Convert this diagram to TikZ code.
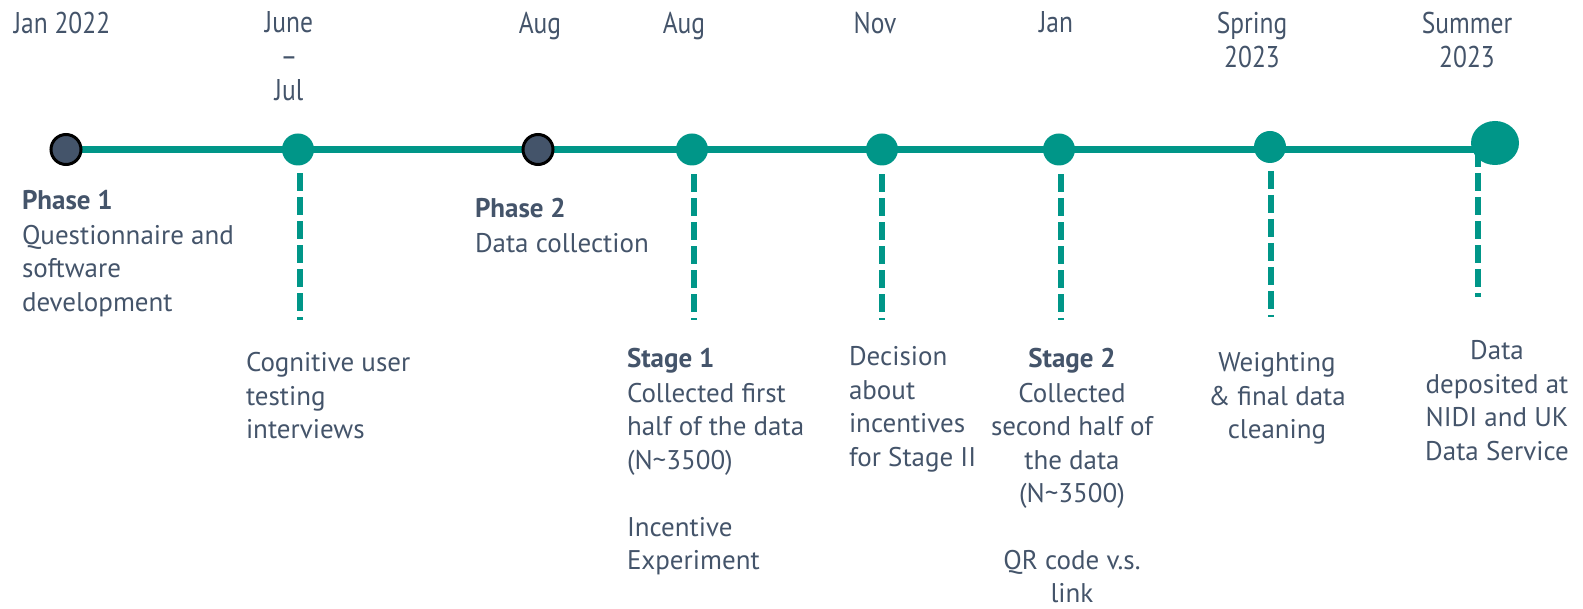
\documentclass[tikz,border=0pt]{standalone}
\usepackage{fontspec}
\setmainfont{PT Sans}
\newfontfamily\condfont[FakeStretch=0.85]{PT Sans}
\usetikzlibrary{shapes.geometric,backgrounds}
\definecolor{tealc}{HTML}{009688}
\definecolor{slate}{HTML}{44546A}
\begin{document}
\begin{tikzpicture}[x=1pt,y=-1pt,
  every node/.style={inner sep=0pt, outer sep=0pt},
  teal dot/.style={circle, fill=tealc, minimum size=32pt},
  dark dot/.style={circle, fill=slate, draw=black, line width=3pt, minimum size=30pt},
  end dot/.style={ellipse, fill=tealc, minimum width=48pt, minimum height=44pt},
  mainline/.style={draw=tealc, line width=7pt},
  dashline/.style={draw=tealc, line width=6pt, dash pattern=on 18pt off 6pt},
  datelabel/.style={text=slate, font=\condfont\fontsize{30}{34}\selectfont, align=center, anchor=north},
  bodyl/.style={text=slate, font=\fontsize{27}{33.5}\selectfont, align=left, anchor=north west},
  bodyc/.style={text=slate, font=\fontsize{27}{33.5}\selectfont, align=center, anchor=north},
]
\useasboundingbox (0,0) rectangle (1583,609);

% timeline dots
\node[dark dot] (p1) at (66,149.5) {};
\node[teal dot] (t1) at (298,149.5) {};
\node[dark dot] (p2) at (538,149.5) {};
\node[teal dot] (t2) at (692,149.5) {};
\node[teal dot] (t3) at (882,149.5) {};
\node[teal dot] (t4) at (1059,149.5) {};
\node[teal dot] (t5) at (1270,147) {};
\node[end dot] (t6) at (1495,143) {};

\coordinate (lineend) at (1478,149.5);
\coordinate (d1) at (300,320);
\coordinate (d2) at (694,320);
\coordinate (d3) at (882,320);
\coordinate (d4) at (1061,320);
\coordinate (d5) at (1271,317);
\coordinate (d6) at (1478,297);

\begin{pgfonlayer}{background}
  \draw[mainline] (p1.center) -- (lineend);
  \draw[dashline] (lineend) -- (d6);
\end{pgfonlayer}
\draw[dashline] (t1.south -| d1) ++(0,8) -- (d1);
\draw[dashline] (t2.south -| d2) ++(0,9) -- (d2);
\draw[dashline] (t3.south -| d3) ++(0,9) -- (d3);
\draw[dashline] (t4.south -| d4) ++(0,9) -- (d4);
\draw[dashline] (t5.south -| d5) ++(0,8) -- (d5);

% dates
\node[datelabel] (dt0) at (62,12) {Jan 2022};
\node[datelabel] (dt1) at (289,12) {June\\\textendash\\Jul};
\node[datelabel] (dt2) at (540,12) {Aug};
\node[datelabel] (dt3) at (684,12) {Aug};
\node[datelabel] (dt4) at (875,12) {Nov};
\node[datelabel] (dt5) at (1056,12) {Jan};
\node[datelabel] (dt6) at (1252,12) {Spring\\2023};
\node[datelabel] (dt7) at (1467,12) {Summer\\2023};

% descriptions
\node[bodyl] (b1) at (22,190.5) {\textbf{Phase 1}\\[1pt]Questionnaire and\\software\\development};
\node[bodyl] (b2) at (475,198.5) {\textbf{Phase 2}\\[1pt]Data collection};
\node[bodyl] (b3) at (246,352.5) {Cognitive user\\testing\\interviews};
\node[bodyl] (b4) at (627,348.5) {\textbf{Stage 1}\\[1pt]Collected first\\half of the data\\(N\textasciitilde3500)\\[33.5pt]Incentive\\Experiment};
\node[bodyl] (b5) at (849,346.5) {Decision\\about\\incentives\\for Stage II};
\node[bodyc] (b6) at (1072,348.5) {\textbf{Stage 2}\\[1pt]Collected\\second half of\\the data\\(N\textasciitilde3500)\\[33pt]QR code v.s.\\link};
\node[bodyc] (b7) at (1277,352.5) {Weighting\\\& final data\\cleaning};
\node[bodyc] (b8) at (1497,340.5) {Data\\deposited at\\NIDI and UK\\Data Service};
\end{tikzpicture}
\end{document}
